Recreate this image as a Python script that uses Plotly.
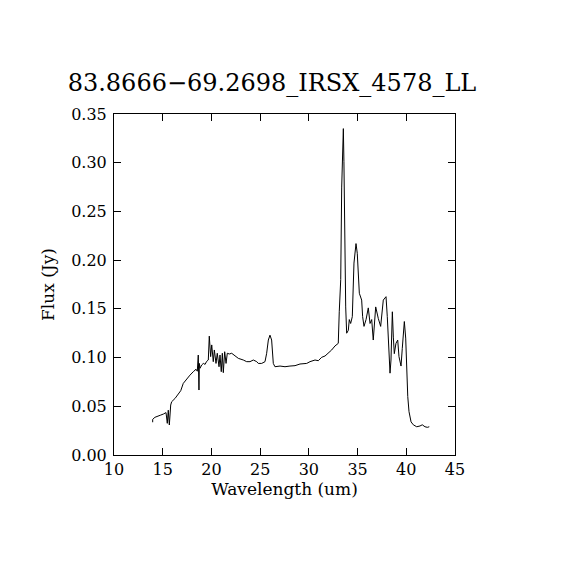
import plotly.graph_objects as go

wavelength = [13.97, 13.97, 14.2, 14.55, 14.8, 15.06, 15.34, 15.47, 15.57, 15.68, 15.82, 15.92,
              16.26, 16.6, 16.85, 17.11, 17.4, 17.63, 17.8, 18.14, 18.42, 18.55, 18.65, 18.72, 18.76,
              18.83, 19.0, 19.17, 19.35, 19.5, 19.68, 19.78, 19.92, 20.03, 20.19, 20.3, 20.47,
              20.6, 20.78, 20.88, 21.01, 21.12, 21.22, 21.36, 21.5, 21.63, 21.84, 22.08, 22.42,
              22.76, 23.27, 23.62, 23.96, 24.3, 24.65, 24.81, 25.16, 25.5, 25.67, 25.84, 26.01,
              26.18, 26.35, 26.52, 27.04, 27.55, 28.06, 28.58, 29.09, 29.78, 30.12, 30.63, 30.97,
              31.32, 31.66, 32.0, 32.34, 32.68, 32.92, 33.02, 33.12, 33.27, 33.37, 33.47, 33.54,
              33.6, 33.68, 33.78, 33.88, 34.05, 34.15, 34.29, 34.46, 34.63, 34.84, 34.97, 35.18,
              35.25, 35.42, 35.52, 35.66, 35.87, 36.1, 36.28, 36.45, 36.61, 36.86, 37.13, 37.37,
              37.64, 37.92, 38.05, 38.23, 38.33, 38.43, 38.57, 38.67, 38.77, 38.94, 39.12, 39.25,
              39.46, 39.59, 39.8, 39.94, 40.04, 40.15, 40.28, 40.49, 40.72, 41.07, 41.41, 41.64,
              41.92, 42.16, 42.36]
flux = [0.0336, 0.0366, 0.0387, 0.0404, 0.041, 0.042, 0.0435, 0.0325, 0.046, 0.0308, 0.0513, 0.0547,
        0.058, 0.0626, 0.066, 0.0735, 0.0775, 0.0804, 0.082, 0.0855, 0.088, 0.086, 0.1026, 0.0667, 0.094,
        0.089, 0.0924, 0.094, 0.093, 0.096, 0.0975, 0.122, 0.101, 0.113, 0.0958, 0.1078, 0.094,
        0.1044, 0.0906, 0.1026, 0.0855, 0.1044, 0.0845, 0.106, 0.094, 0.1044, 0.1037, 0.1044, 0.1016,
        0.0992, 0.0975, 0.0958, 0.0958, 0.0975, 0.0958, 0.094, 0.094, 0.0958, 0.1044, 0.118, 0.123,
        0.118, 0.094, 0.0906, 0.0913, 0.0906, 0.0913, 0.0917, 0.0934, 0.094, 0.0958, 0.0975, 0.0968,
        0.1003, 0.1016, 0.1044, 0.1078, 0.1119, 0.1139, 0.1146, 0.147, 0.18, 0.275, 0.301, 0.335,
        0.301, 0.214, 0.152, 0.125, 0.128, 0.139, 0.135, 0.142, 0.197, 0.217, 0.207, 0.166,
        0.164, 0.159, 0.142, 0.132, 0.139, 0.151, 0.135, 0.139, 0.118, 0.152, 0.140, 0.132,
        0.159, 0.1625, 0.142, 0.101, 0.084, 0.0975, 0.147, 0.121, 0.104, 0.1146, 0.118, 0.101,
        0.0913, 0.1095, 0.137, 0.12, 0.084, 0.06, 0.0445, 0.034, 0.031, 0.029, 0.0298, 0.031,
        0.029, 0.0284, 0.029]

x_ticks = [10, 15, 20, 25, 30, 35, 40, 45]
y_ticks = [0.00, 0.05, 0.10, 0.15, 0.20, 0.25, 0.30, 0.35]

font_family = "DejaVu Serif"

fig = go.Figure()
fig.add_trace(go.Scatter(x=wavelength, y=flux, mode="lines",
                         line=dict(color="black", width=1, shape="linear"),
                         showlegend=False, hoverinfo="skip"))

axis_common = dict(showgrid=False, zeroline=False, showline=True, linecolor="black",
                   linewidth=1, mirror="allticks", ticks="inside", ticklen=7,
                   tickcolor="black", tickwidth=1,
                   tickfont=dict(family=font_family, size=16, color="black"))

fig.update_xaxes(range=[10, 45], tickvals=x_ticks,
                 ticktext=[str(v) for v in x_ticks],
                 title=dict(text="Wavelength (um)", standoff=4,
                            font=dict(family=font_family, size=17, color="black")),
                 **axis_common)
fig.update_yaxes(range=[0, 0.35], tickvals=y_ticks,
                 ticktext=[f"{v:.2f}" for v in y_ticks],
                 ticklabelstandoff=3,
                 title=dict(text="Flux (Jy)", standoff=12,
                            font=dict(family=font_family, size=17, color="black")),
                 **axis_common)

fig.update_layout(
    width=570, height=570,
    margin=dict(l=106, r=123, t=106, b=123),
    paper_bgcolor="white", plot_bgcolor="white",
    title=dict(text="83.8666\u221269.2698_IRSX_4578_LL", x=264 / 570, xanchor="center",
               y=1 - 75 / 570, yanchor="middle",
               font=dict(family=font_family, size=24, color="black")),
)

fig.write_html("out.html")
